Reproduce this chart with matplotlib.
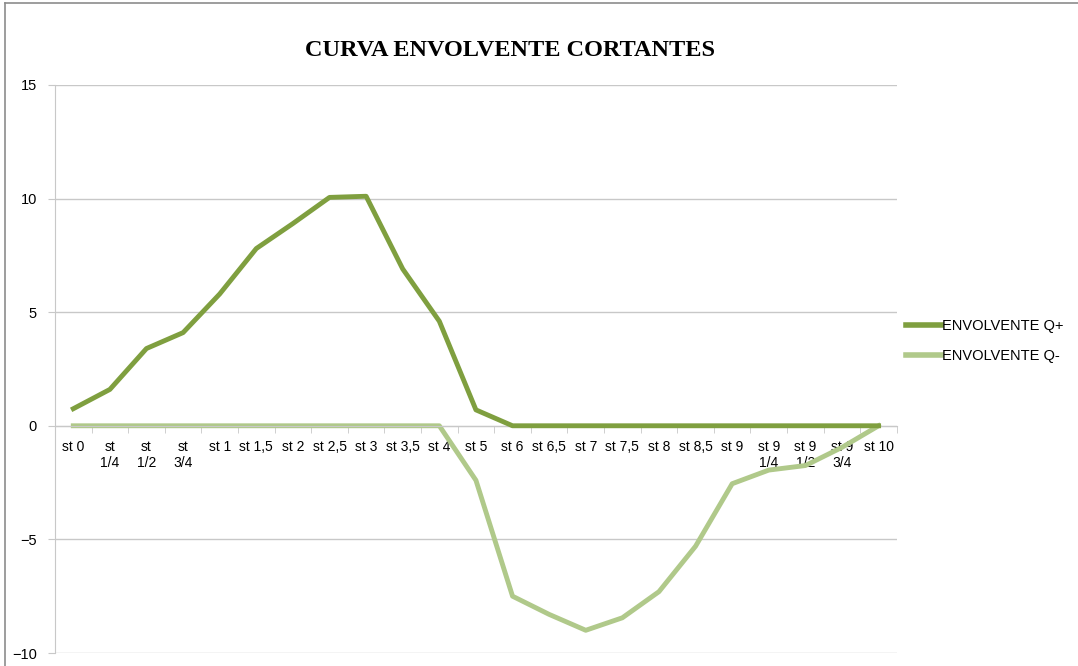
import numpy as np
import matplotlib.pyplot as plt
from matplotlib.lines import Line2D

# Data
stations = ['st 0', 'st\n1/4', 'st\n1/2', 'st\n3/4', 'st 1', 'st 1,5', 'st 2', 'st 2,5',
            'st 3', 'st 3,5', 'st 4', 'st 5', 'st 6', 'st 6,5', 'st 7', 'st 7,5',
            'st 8', 'st 8,5', 'st 9', 'st 9\n1/4', 'st 9\n1/2', 'st 9\n3/4', 'st 10']
q_pos = [0.75, 1.6, 3.4, 4.1, 5.8, 7.8, 8.9, 10.05, 10.1, 6.9, 4.6, 0.7,
         0, 0, 0, 0, 0, 0, 0, 0, 0, 0, 0]
q_neg = [0, 0, 0, 0, 0, 0, 0, 0, 0, 0, 0, -2.4, -7.5, -8.3, -9.0, -8.45,
         -7.3, -5.3, -2.55, -1.95, -1.75, -0.95, 0]

c_pos = '#7F9F3F'
c_neg = '#B0C98A'
grid_c = '#C8C8C8'

plt.rcParams['font.family'] = ['Liberation Sans', 'DejaVu Sans']

fig = plt.figure(figsize=(10.78, 6.66), dpi=100)
ax = fig.add_axes([0.051, 0.0195, 0.781, 0.853])

x = np.arange(len(stations))
ax.plot(x, q_pos, color=c_pos, lw=3.5, solid_joinstyle='round', zorder=3)
ax.plot(x, q_neg, color=c_neg, lw=3.5, solid_joinstyle='round', zorder=2)

ax.set_xlim(-0.5, len(stations) - 0.5)
ax.set_ylim(-10, 15)
ax.set_yticks([-10, -5, 0, 5, 10, 15])
ax.yaxis.grid(True, color=grid_c, lw=1)
ax.set_axisbelow(True)

ax.set_xticks(x)
ax.set_xticklabels(stations, fontsize=10.5, linespacing=1.35)
ax.set_xticks(np.arange(-0.5, len(stations)), minor=True)
ax.tick_params(axis='x', which='major', length=0, pad=10)
ax.tick_params(axis='x', which='minor', length=5, color=grid_c, direction='out')
ax.tick_params(axis='y', length=5, color=grid_c, labelsize=10.5, pad=8)

for s in ['top', 'right']:
    ax.spines[s].set_visible(False)
ax.spines['bottom'].set_position(('data', 0))
ax.spines['bottom'].set_color(grid_c)
ax.spines['left'].set_color(grid_c)

fig.suptitle('CURVA ENVOLVENTE CORTANTES', x=0.473, y=0.94,
             fontsize=17.5, fontweight='bold', family='Liberation Serif')

handles = [Line2D([], [], color=c_pos, lw=4), Line2D([], [], color=c_neg, lw=4)]
fig.legend(handles, ['ENVOLVENTE Q+', 'ENVOLVENTE Q-'], loc='center left',
           bbox_to_anchor=(0.828, 0.488), frameon=False, fontsize=10.5,
           handlelength=2.4, handletextpad=0.1, labelspacing=1.1)

# chart frame
fig.add_artist(Line2D([0.0046, 0.0046], [0, 0.9955], color='#8C8C8C', lw=1.2))
fig.add_artist(Line2D([0.0046, 1], [0.9955, 0.9955], color='#8C8C8C', lw=1.2))

fig.savefig('out.png', dpi=100)
